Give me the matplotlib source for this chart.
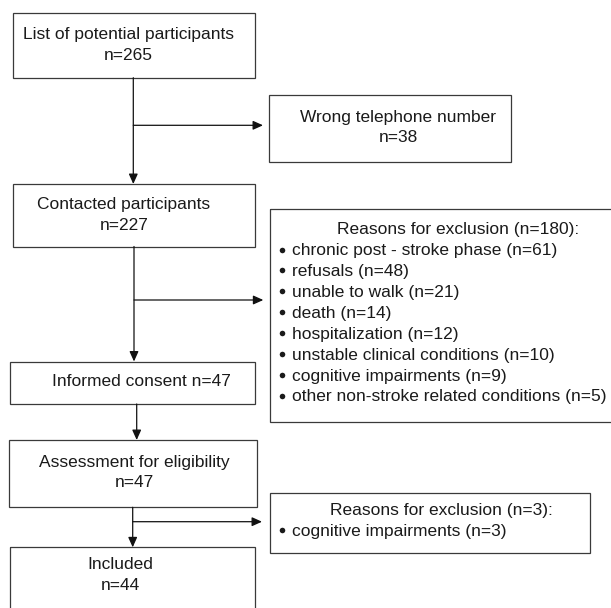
import matplotlib
matplotlib.use("Agg")
import matplotlib.pyplot as plt
from matplotlib.patches import Rectangle

plt.rcParams['font.family'] = ['Liberation Sans', 'DejaVu Sans']

# flow chart content
main_labels = [
    ["List of potential participants", "n=265"],
    ["Contacted participants", "n=227"],
    ["Informed consent n=47"],
    ["Assessment for eligibility", "n=47"],
    ["Included", "n=44"],
]
side_title = ["", "Reasons for exclusion (n=180):", "Reasons for exclusion (n=3):"]
side_items = [
    ["Wrong telephone number", "n=38"],
    ["chronic post - stroke phase (n=61)",
     "refusals (n=48)",
     "unable to walk (n=21)",
     "death (n=14)",
     "hospitalization (n=12)",
     "unstable clinical conditions (n=10)",
     "cognitive impairments (n=9)",
     "other non-stroke related conditions (n=5)"],
    ["cognitive impairments (n=3)"],
]

# layout in pixels: (left, top, right, bottom), text centre x, first line y
main_boxes = [
    (12.7, 12.7, 255, 77.7, 128.6, 34.8),
    (12.5, 184.3, 255, 246.5, 124.0, 204.5),
    (10, 361.7, 255, 404, 141.7, 382.0),
    (9, 440, 256.7, 507.3, 134.0, 462.0),
    (10, 547.3, 255, 620, 120.5, 564.5),
]
side_boxes = [
    (268.5, 94.5, 511, 162, 398.3, 117.2),
    (269.5, 208.7, 620, 422, 458.0, 229.8),
    (269.5, 492.5, 590, 553, 441.7, 510.5),
]
LINE = 20.8
FS = 12.5
EDGE = '#3a3a3a'
TXT = '#1a1a1a'

fig = plt.figure(figsize=(6.11, 6.08), dpi=100)
ax = fig.add_axes([0, 0, 1, 1])
ax.set_xlim(0, 611)
ax.set_ylim(608, 0)
ax.axis('off')


def box(l, t, r, b):
    ax.add_patch(Rectangle((l, t), r - l, b - t, fill=False,
                           edgecolor=EDGE, lw=0.9))


def arrow(x0, y0, x1, y1):
    ax.annotate('', xy=(x1, y1), xytext=(x0, y0),
                arrowprops=dict(arrowstyle='-|>,head_length=0.6,head_width=0.27',
                                color='#111111', lw=0.9, shrinkA=0, shrinkB=0,
                                mutation_scale=10))


for (l, t, r, b, cx, y0), lines in zip(main_boxes, main_labels):
    box(l, t, r, b)
    for i, s in enumerate(lines):
        ax.text(cx, y0 + i * LINE, s, ha='center', va='center',
                fontsize=FS, color=TXT)

# wrong telephone number box (centred lines)
l, t, r, b, cx, y0 = side_boxes[0]
box(l, t, r, b)
for i, s in enumerate(side_items[0]):
    ax.text(cx, y0 + i * LINE, s, ha='center', va='center', fontsize=FS, color=TXT)

# exclusion boxes with bullet lists
for k in (1, 2):
    l, t, r, b, cx, y0 = side_boxes[k]
    box(l, t, r, b)
    ax.text(cx, y0, side_title[k], ha='center', va='center', fontsize=FS, color=TXT)
    for i, s in enumerate(side_items[k]):
        yy = y0 + (i + 1) * (LINE + 0.1)
        ax.plot(281.9, yy - 1.2, 'o', ms=4.0, color=TXT, mec='none')
        ax.text(292.0, yy, s, ha='left', va='center', fontsize=FS, color=TXT)

# connectors
arrow(133.3, 77.7, 133.3, 184.0)
arrow(133.3, 125.3, 263.0, 125.3)
arrow(134.0, 246.5, 134.0, 361.5)
arrow(134.0, 300.0, 263.3, 300.0)
arrow(136.7, 404.0, 136.7, 440.0)
arrow(132.7, 507.3, 132.7, 547.3)
arrow(132.7, 521.7, 262.0, 521.7)

fig.savefig('out.png', dpi=100, facecolor='white')
